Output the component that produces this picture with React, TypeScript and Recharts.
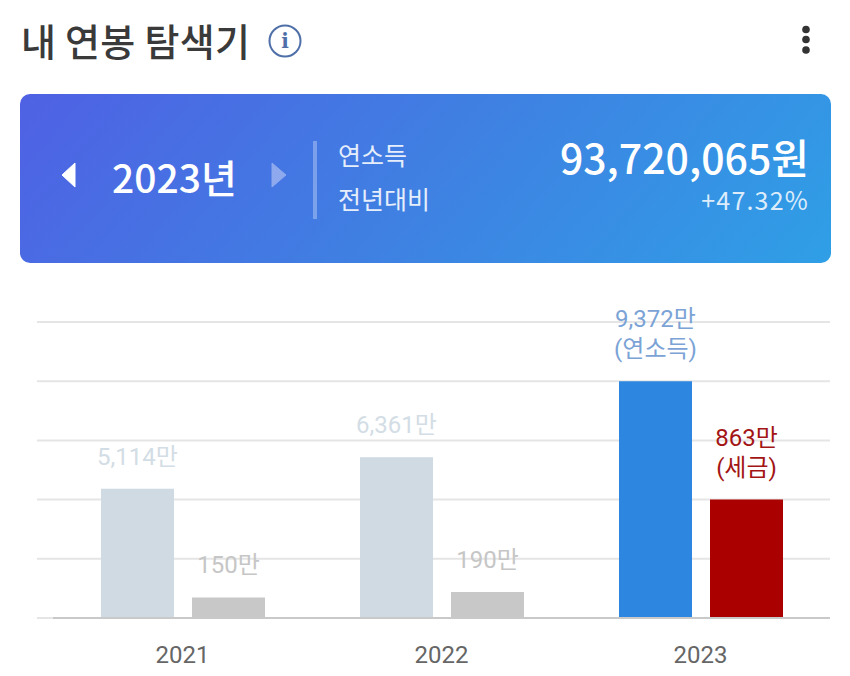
import { BarChart, Bar, XAxis, YAxis, CartesianGrid, Cell, LabelList } from "recharts";

const years = ["2021", "2022", "2023"];
const income = [5114, 6361, 9372];
const tax = [150, 190, 863];
const incomeTicks = [0, 2343, 4686, 7029, 9372, 11715];
const taxTicks = [0, 431.5, 863, 1294.5, 1726, 2157.5];
const incomeFills = ["#cfdae3", "#cfdae3", "#2d86e0"];
const taxFills = ["#c8c8c8", "#c8c8c8", "#ab0000"];
const incomeLabelColors = ["#d3dde5", "#d3dde5", "#7ba3d6"];
const taxLabelColors = ["#c6c6c6", "#c6c6c6", "#a31515"];
const incomeNotes = ["", "", "(연소득)"];
const taxNotes = ["", "", "(세금)"];

const data = years.map((year, i) => ({ year, income: income[i], tax: tax[i] }));

const SANS = '"Noto Sans CJK KR", "Noto Sans", sans-serif';
const LABEL_FONT = 'Roboto, "Noto Sans CJK KR", sans-serif';

function barLabel(colors: string[], notes: string[]) {
  return (props: any) => {
    const { x, y, width, value, index } = props;
    const cx = x + width / 2;
    const note = notes[index];
    const text = `${Number(value).toLocaleString("en-US")}만`;
    const common = { x: cx, textAnchor: "middle" as const, fontSize: 24, fontFamily: LABEL_FONT, fill: colors[index] };
    return (
      <g>
        <text {...common} y={note ? y - 54 : y - 24}>
          {text}
        </text>
        {note && (
          <text {...common} y={y - 24}>
            {note}
          </text>
        )}
      </g>
    );
  };
}

function Header() {
  return (
    <>
      <div style={{ position: "absolute", left: 21, top: 14, fontFamily: SANS, fontSize: 38, fontWeight: 500, lineHeight: "52px", letterSpacing: 0.3, color: "#3a3a3a", whiteSpace: "nowrap" }}>
        내 연봉 탐색기
      </div>
      <svg style={{ position: "absolute", left: 266, top: 23 }} width={38} height={38}>
        <circle cx={19} cy={18} r={15.5} fill="none" stroke="#4f6fa8" strokeWidth={2} />
        <text x={19} y={25} textAnchor="middle" fontSize={20} fontWeight={700} fontFamily="'DejaVu Serif', serif" fill="#4f6fa8">
          i
        </text>
      </svg>
      <svg style={{ position: "absolute", left: 796, top: 20 }} width={20} height={40}>
        <circle cx={10} cy={9.5} r={3.8} fill="#333" />
        <circle cx={10} cy={19.5} r={3.8} fill="#333" />
        <circle cx={10} cy={30} r={3.8} fill="#333" />
      </svg>
    </>
  );
}

function SummaryCard() {
  return (
    <div style={{ position: "absolute", left: 20, top: 94, width: 811, height: 169, borderRadius: 10, background: "linear-gradient(130deg, #4f61e4 0%, #3f80e2 50%, #2f9fe6 100%)", color: "#fff", fontFamily: SANS }}>
      <svg style={{ position: "absolute", left: 40, top: 68 }} width={20} height={26}>
        <path d="M2 13 L15 1 L15 25 Z" fill="#fff" stroke="#fff" strokeLinejoin="round" strokeWidth={1} />
      </svg>
      <svg style={{ position: "absolute", left: 250, top: 68 }} width={20} height={26}>
        <path d="M2 1 L16 13 L2 25 Z" fill="#8ea9ee" stroke="#8ea9ee" strokeLinejoin="round" strokeWidth={1} />
      </svg>
      <div style={{ position: "absolute", left: 92, top: 54, fontSize: 39, fontWeight: 500, lineHeight: "56px", whiteSpace: "nowrap" }}>2023년</div>
      <div style={{ position: "absolute", left: 293, top: 47, width: 4, height: 78, background: "rgba(255,255,255,0.3)" }} />
      <div style={{ position: "absolute", left: 318, top: 42, fontSize: 25, lineHeight: "36px", color: "#e6eefc" }}>연소득</div>
      <div style={{ position: "absolute", left: 318, top: 86, fontSize: 25, lineHeight: "36px", color: "#e6eefc" }}>전년대비</div>
      <div style={{ position: "absolute", right: 22, top: 38, fontSize: 41, fontWeight: 500, lineHeight: "48px", whiteSpace: "nowrap" }}>93,720,065원</div>
      <div style={{ position: "absolute", right: 22, top: 88, fontSize: 25, lineHeight: "34px", letterSpacing: 1.2, color: "#dcecfb", whiteSpace: "nowrap" }}>+47.32%</div>
    </div>
  );
}

export default function App() {
  return (
    <div style={{ position: "absolute", left: 0, top: 0, width: 850, height: 676, background: "#fff", overflow: "hidden" }}>
      <div style={{ position: "absolute", left: 0, top: 0 }}>
        <BarChart width={850} height={676} data={data} margin={{ top: 322, right: 20, bottom: 0, left: 53 }} barSize={73} barGap={18}>
          <CartesianGrid vertical={false} stroke="#e5e5e5" strokeWidth={2} yAxisId="income" x={37} width={793} />
          <XAxis
            dataKey="year"
            axisLine={{ stroke: "#c9c9c9", strokeWidth: 2 }}
            tickLine={false}
            tickMargin={22}
            height={58}
            tick={{ fontSize: 24, fill: "#666", fontFamily: LABEL_FONT }}
          />
          <YAxis yAxisId="income" hide domain={[0, 11715]} ticks={incomeTicks} />
          <YAxis yAxisId="tax" hide orientation="right" domain={[0, 2157.5]} ticks={taxTicks} />
          <Bar yAxisId="income" dataKey="income" isAnimationActive={false}>
            {years.map((y, i) => (
              <Cell key={y} fill={incomeFills[i]} />
            ))}
            <LabelList dataKey="income" content={barLabel(incomeLabelColors, incomeNotes)} />
          </Bar>
          <Bar yAxisId="tax" dataKey="tax" isAnimationActive={false}>
            {years.map((y, i) => (
              <Cell key={y} fill={taxFills[i]} />
            ))}
            <LabelList dataKey="tax" content={barLabel(taxLabelColors, taxNotes)} />
          </Bar>
        </BarChart>
      </div>
      <Header />
      <SummaryCard />
    </div>
  );
}
